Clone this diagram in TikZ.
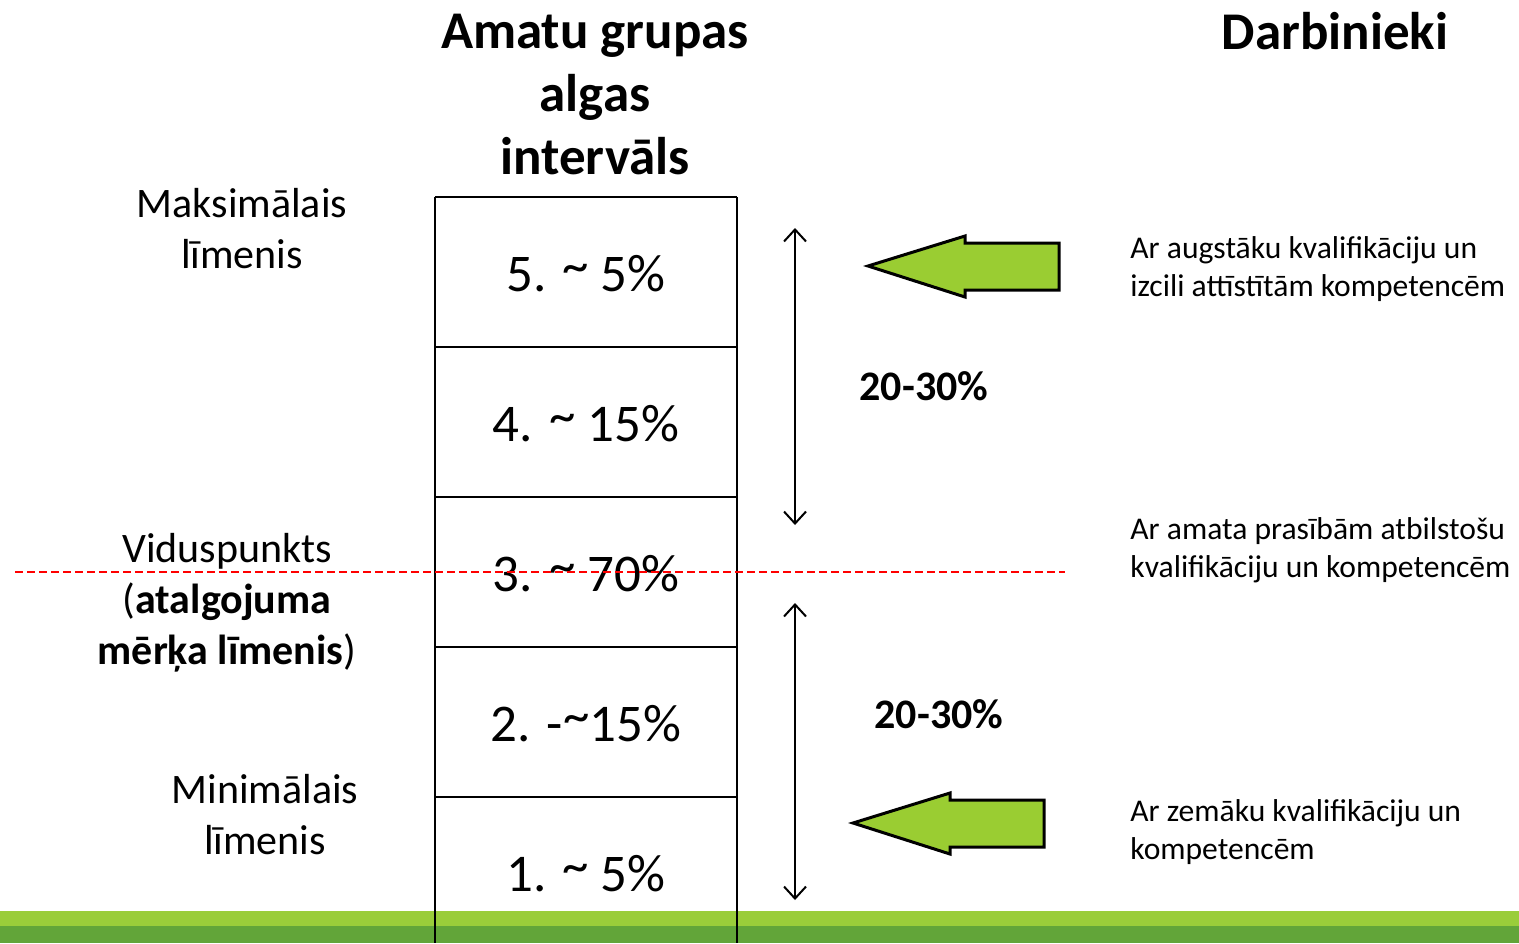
\documentclass[tikz,border=0pt]{standalone}
\usepackage{fontspec}
\setmainfont{Carlito}
\usetikzlibrary{arrows.meta}
\definecolor{lgreen}{HTML}{9ACD3A}
\definecolor{dgreen}{HTML}{62A539}
\definecolor{agreen}{HTML}{9ACD32}
\newcommand{\tld}{\raisebox{0.16em}{\char"007E}}
\tikzset{
  titletxt/.style={font=\fontsize{26.5}{31.5}\selectfont\bfseries, align=center, inner sep=0pt},
  boxtxt/.style={font=\fontsize{26.5}{31.5}\selectfont, inner sep=0pt},
  lefttxt/.style={font=\fontsize{21}{25.5}\selectfont, align=center, inner sep=0pt},
  pcttxt/.style={font=\fontsize{21}{25.5}\selectfont\bfseries, inner sep=0pt},
  righttxt/.style={font=\fontsize{15.8}{19}\selectfont, align=left, inner sep=0pt, anchor=west},
  boxline/.style={line width=1.2pt, black},
  dblarrow/.style={line width=1pt, {Straight Barb[length=6pt,width=11pt]}-{Straight Barb[length=6pt,width=11pt]}},
  greenarrow/.style={fill=agreen, draw=black, line width=1.5pt, line join=miter},
  redline/.style={red, line width=0.8pt, dash pattern=on 4pt off 2pt}
}
\begin{document}
\begin{tikzpicture}[x=0.5pt,y=-0.5pt]
\useasboundingbox (0,0) rectangle (1519,943);
% green band
\fill[lgreen] (0,911) rectangle (1519,926);
\fill[dgreen] (0,926) rectangle (1519,943);
% box rows
\draw[boxline] (435,197) -- (737,197);
\foreach \yy in {347,497,647,797} {\draw[boxline] (435,\yy) -- (737,\yy);}
\draw[boxline] (435,197) -- (435,943);
\draw[boxline] (737,197) -- (737,943);
% row labels
\node[boxtxt] (r5) at (586,274) {5. \tld\ 5\%};
\node[boxtxt] (r4) at (586,424) {4. \tld\ 15\%};
\node[boxtxt] (r3) at (586,574) {3. \tld\ 70\%};
\node[boxtxt] (r2) at (586,724) {2. -\tld 15\%};
\node[boxtxt] (r1) at (586,874) {1. \tld\ 5\%};
% titles
\node[titletxt] (t1) at (595,95) {Amatu grupas\\algas\\intervāls};
\node[titletxt] (t2) at (1335,31) {Darbinieki};
% left labels
\node[lefttxt] (max) at (242,229) {Maksimālais\\līmenis};
\node[lefttxt] (mid) at (227,603) {Viduspunkts\\(\textbf{atalgojuma}\\\textbf{mērķa līmenis})};
\node[lefttxt] (min) at (265,815) {Minimālais\\līmenis};
% red dashed midpoint line
\coordinate (rl) at (15,572);
\coordinate (rr) at (1065,572);
\draw[redline] (rl) -- (rr);
% double arrows
\coordinate (a1t) at (795,228);
\coordinate (a1b) at (795,525);
\coordinate (a2t) at (795,603);
\coordinate (a2b) at (795,900);
\draw[dblarrow] (a1t) -- (a1b);
\draw[dblarrow] (a2t) -- (a2b);
\node[pcttxt] (p1) at (924,386) {20-30\%};
\node[pcttxt] (p2) at (939,714) {20-30\%};
% green arrows
\draw[greenarrow] (868,266) -- (965,236) -- (965,243) -- (1059,243) -- (1059,290) -- (965,290) -- (965,297) -- cycle;
\draw[greenarrow] (853,823) -- (950,793) -- (950,800) -- (1044,800) -- (1044,847) -- (950,847) -- (950,854) -- cycle;
% right texts
\node[righttxt] (d1) at (1130,269) {Ar augstāku kvalifikāciju un\\izcili attīstītām kompetencēm};
\node[righttxt] (d2) at (1130,550) {Ar amata prasībām atbilstošu\\kvalifikāciju un kompetencēm};
\node[righttxt] (d3) at (1130,832) {Ar zemāku kvalifikāciju un\\kompetencēm};
\end{tikzpicture}
\end{document}
